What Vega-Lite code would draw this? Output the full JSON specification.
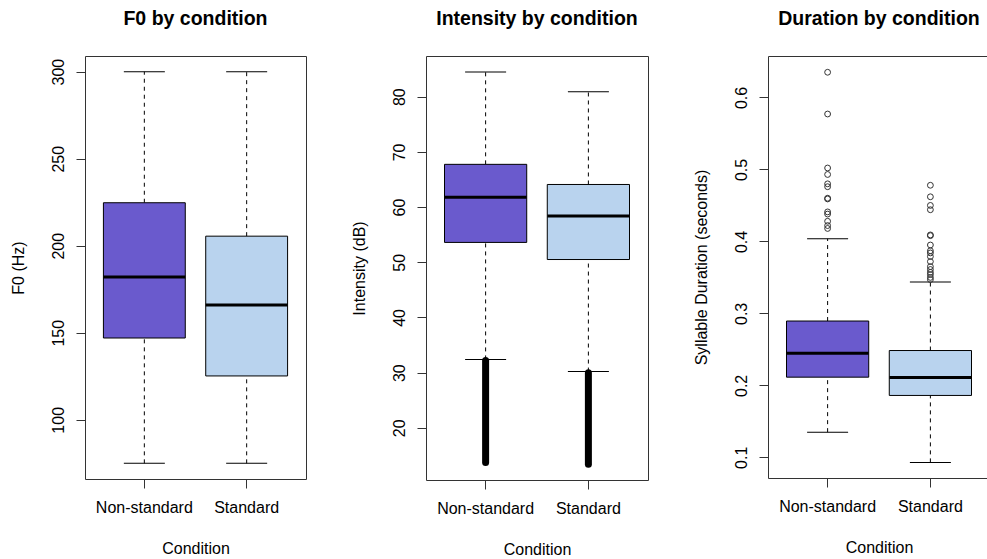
{
  "$schema": "https://vega.github.io/schema/vega-lite/v6.json",
  "autosize": {"type": "none"},
  "padding": {"left": 85, "top": 56, "right": 902, "bottom": 503},
  "background": "white",
  "bounds": "flush",
  "spacing": 120,
  "datasets": {
    "f0": [
      {"condition": "Non-standard", "lower": 75, "q1": 147, "median": 182, "q3": 224.7, "upper": 300},
      {"condition": "Standard", "lower": 75, "q1": 125.2, "median": 166, "q3": 205.5, "upper": 300}
    ],
    "intensity": [
      {"condition": "Non-standard", "lower": 32.4, "q1": 53.6, "median": 61.8, "q3": 67.75, "upper": 84.5, "out_min": 13.7, "out_max": 32.2},
      {"condition": "Standard", "lower": 30.2, "q1": 50.5, "median": 58.4, "q3": 64.1, "upper": 80.9, "out_min": 13.4, "out_max": 30.0}
    ],
    "duration": [
      {"condition": "Non-standard", "lower": 0.135, "q1": 0.2114, "median": 0.2445, "q3": 0.2894, "upper": 0.4037},
      {"condition": "Standard", "lower": 0.093, "q1": 0.186, "median": 0.211, "q3": 0.2484, "upper": 0.3436}
    ],
    "duration_outliers": [
      {"condition": "Non-standard", "value": 0.635},
      {"condition": "Non-standard", "value": 0.577},
      {"condition": "Non-standard", "value": 0.502},
      {"condition": "Non-standard", "value": 0.493},
      {"condition": "Non-standard", "value": 0.480},
      {"condition": "Non-standard", "value": 0.476},
      {"condition": "Non-standard", "value": 0.460},
      {"condition": "Non-standard", "value": 0.459},
      {"condition": "Non-standard", "value": 0.441},
      {"condition": "Non-standard", "value": 0.438},
      {"condition": "Non-standard", "value": 0.428},
      {"condition": "Non-standard", "value": 0.422},
      {"condition": "Non-standard", "value": 0.418},
      {"condition": "Standard", "value": 0.478},
      {"condition": "Standard", "value": 0.462},
      {"condition": "Standard", "value": 0.450},
      {"condition": "Standard", "value": 0.444},
      {"condition": "Standard", "value": 0.409},
      {"condition": "Standard", "value": 0.408},
      {"condition": "Standard", "value": 0.395},
      {"condition": "Standard", "value": 0.387},
      {"condition": "Standard", "value": 0.384},
      {"condition": "Standard", "value": 0.379},
      {"condition": "Standard", "value": 0.372},
      {"condition": "Standard", "value": 0.365},
      {"condition": "Standard", "value": 0.361},
      {"condition": "Standard", "value": 0.357},
      {"condition": "Standard", "value": 0.354},
      {"condition": "Standard", "value": 0.350},
      {"condition": "Standard", "value": 0.347}
    ]
  },
  "hconcat": [
    {
      "width": 221,
      "height": 423,
      "title": {"text": "F0 by condition"},
      "data": {"name": "f0"},
      "encoding": {
        "x": {
          "field": "condition", "type": "nominal", "title": "Condition",
          "scale": {"paddingInner": 0.2, "paddingOuter": 0.18},
          "axis": {"labelAngle": 0, "labelPadding": 24, "labelBaseline": "alphabetic", "titleBaseline": "alphabetic", "titleY": 74}
        }
      },
      "layer": [
        {"mark": {"type": "rule", "strokeDash": [4, 4], "color": "black", "strokeWidth": 1},
         "encoding": {"y": {"field": "q3", "type": "quantitative", "scale": {"domain": [66, 309], "nice": false, "zero": false},
           "title": "F0 (Hz)",
           "axis": {"values": [100, 150, 200, 250, 300], "labelAngle": 270, "labelAlign": "center", "labelBaseline": "alphabetic", "labelPadding": 13,
             "titleAngle": 270, "titleAlign": "center", "titleBaseline": "alphabetic", "titleX": -62, "titleY": 211.5}},
           "y2": {"field": "upper"}}},
        {"mark": {"type": "rule", "strokeDash": [4, 4], "color": "black", "strokeWidth": 1},
         "encoding": {"y": {"field": "lower", "type": "quantitative"}, "y2": {"field": "q1"}}},
        {"mark": {"type": "tick", "size": 41, "thickness": 1, "color": "black", "opacity": 1},
         "encoding": {"y": {"field": "upper", "type": "quantitative"}}},
        {"mark": {"type": "tick", "size": 41, "thickness": 1, "color": "black", "opacity": 1},
         "encoding": {"y": {"field": "lower", "type": "quantitative"}}},
        {"mark": {"type": "bar", "stroke": "black", "strokeWidth": 1, "opacity": 1},
         "encoding": {"y": {"field": "q1", "type": "quantitative"}, "y2": {"field": "q3"},
           "fill": {"field": "condition", "type": "nominal", "scale": {"domain": ["Non-standard", "Standard"], "range": ["#6A5ACD", "#B9D3EE"]}, "legend": null}}},
        {"mark": {"type": "tick", "size": 82, "thickness": 3, "color": "black", "opacity": 1},
         "encoding": {"y": {"field": "median", "type": "quantitative"}}}
      ]
    },
    {
      "width": 222,
      "height": 424,
      "title": {"text": "Intensity by condition"},
      "data": {"name": "intensity"},
      "encoding": {
        "x": {
          "field": "condition", "type": "nominal", "title": "Condition",
          "scale": {"paddingInner": 0.2, "paddingOuter": 0.18},
          "axis": {"labelAngle": 0, "labelPadding": 24, "labelBaseline": "alphabetic", "titleBaseline": "alphabetic", "titleY": 74}
        }
      },
      "layer": [
        {"mark": {"type": "rule", "strokeDash": [4, 4], "color": "black", "strokeWidth": 1},
         "encoding": {"y": {"field": "q3", "type": "quantitative", "scale": {"domain": [10.55, 87.38], "nice": false, "zero": false},
           "title": "Intensity (dB)",
           "axis": {"values": [20, 30, 40, 50, 60, 70, 80], "labelAngle": 270, "labelAlign": "center", "labelBaseline": "alphabetic", "labelPadding": 13,
             "titleAngle": 270, "titleAlign": "center", "titleBaseline": "alphabetic", "titleX": -62, "titleY": 212}},
           "y2": {"field": "upper"}}},
        {"mark": {"type": "rule", "strokeDash": [4, 4], "color": "black", "strokeWidth": 1},
         "encoding": {"y": {"field": "lower", "type": "quantitative"}, "y2": {"field": "q1"}}},
        {"mark": {"type": "tick", "size": 41, "thickness": 1, "color": "black", "opacity": 1},
         "encoding": {"y": {"field": "upper", "type": "quantitative"}}},
        {"mark": {"type": "tick", "size": 41, "thickness": 1, "color": "black", "opacity": 1},
         "encoding": {"y": {"field": "lower", "type": "quantitative"}}},
        {"mark": {"type": "rule", "strokeWidth": 7, "strokeCap": "round", "color": "black"},
         "encoding": {"y": {"field": "out_min", "type": "quantitative"}, "y2": {"field": "out_max"}}},
        {"mark": {"type": "bar", "stroke": "black", "strokeWidth": 1, "opacity": 1},
         "encoding": {"y": {"field": "q1", "type": "quantitative"}, "y2": {"field": "q3"},
           "fill": {"field": "condition", "type": "nominal", "scale": {"domain": ["Non-standard", "Standard"], "range": ["#6A5ACD", "#B9D3EE"]}, "legend": null}}},
        {"mark": {"type": "tick", "size": 82, "thickness": 3, "color": "black", "opacity": 1},
         "encoding": {"y": {"field": "median", "type": "quantitative"}}}
      ]
    },
    {
      "width": 222,
      "height": 422,
      "title": {"text": "Duration by condition"},
      "encoding": {
        "x": {
          "field": "condition", "type": "nominal", "title": "Condition",
          "scale": {"paddingInner": 0.2, "paddingOuter": 0.18},
          "axis": {"labelAngle": 0, "labelPadding": 24, "labelBaseline": "alphabetic", "titleBaseline": "alphabetic", "titleY": 74}
        }
      },
      "layer": [
        {"data": {"name": "duration"},
         "mark": {"type": "rule", "strokeDash": [4, 4], "color": "black", "strokeWidth": 1},
         "encoding": {"y": {"field": "q3", "type": "quantitative", "scale": {"domain": [0.0713, 0.6576], "nice": false, "zero": false},
           "title": "Syllable Duration (seconds)",
           "axis": {"values": [0.1, 0.2, 0.3, 0.4, 0.5, 0.6], "format": ".1f", "labelAngle": 270, "labelAlign": "center", "labelBaseline": "alphabetic", "labelPadding": 13,
             "titleAngle": 270, "titleAlign": "center", "titleBaseline": "alphabetic", "titleX": -62, "titleY": 211}},
           "y2": {"field": "upper"}}},
        {"data": {"name": "duration"},
         "mark": {"type": "rule", "strokeDash": [4, 4], "color": "black", "strokeWidth": 1},
         "encoding": {"y": {"field": "lower", "type": "quantitative"}, "y2": {"field": "q1"}}},
        {"data": {"name": "duration"},
         "mark": {"type": "tick", "size": 41, "thickness": 1, "color": "black", "opacity": 1},
         "encoding": {"y": {"field": "upper", "type": "quantitative"}}},
        {"data": {"name": "duration"},
         "mark": {"type": "tick", "size": 41, "thickness": 1, "color": "black", "opacity": 1},
         "encoding": {"y": {"field": "lower", "type": "quantitative"}}},
        {"data": {"name": "duration_outliers"},
         "mark": {"type": "point", "shape": "circle", "filled": false, "size": 34, "stroke": "#333333", "strokeWidth": 1, "opacity": 1},
         "encoding": {"y": {"field": "value", "type": "quantitative"}}},
        {"data": {"name": "duration"},
         "mark": {"type": "bar", "stroke": "black", "strokeWidth": 1, "opacity": 1},
         "encoding": {"y": {"field": "q1", "type": "quantitative"}, "y2": {"field": "q3"},
           "fill": {"field": "condition", "type": "nominal", "scale": {"domain": ["Non-standard", "Standard"], "range": ["#6A5ACD", "#B9D3EE"]}, "legend": null}}},
        {"data": {"name": "duration"},
         "mark": {"type": "tick", "size": 82, "thickness": 3, "color": "black", "opacity": 1},
         "encoding": {"y": {"field": "median", "type": "quantitative"}}}
      ]
    }
  ],
  "config": {
    "font": "Liberation Sans",
    "view": {"stroke": "#333333", "strokeWidth": 1},
    "title": {"fontSize": 19.5, "fontWeight": "bold", "font": "Liberation Sans", "color": "black", "anchor": "middle", "frame": "group", "offset": 27, "baseline": "alphabetic"},
    "axis": {
      "domain": false, "grid": false, "ticks": true, "tickColor": "#333333", "tickSize": 9, "tickWidth": 1,
      "labelFont": "Liberation Sans", "labelFontSize": 16, "labelColor": "black", "labelOverlap": false, "labelFlush": false,
      "titleFont": "Liberation Sans", "titleFontSize": 16, "titleFontWeight": "normal", "titleColor": "black"
    }
  }
}
